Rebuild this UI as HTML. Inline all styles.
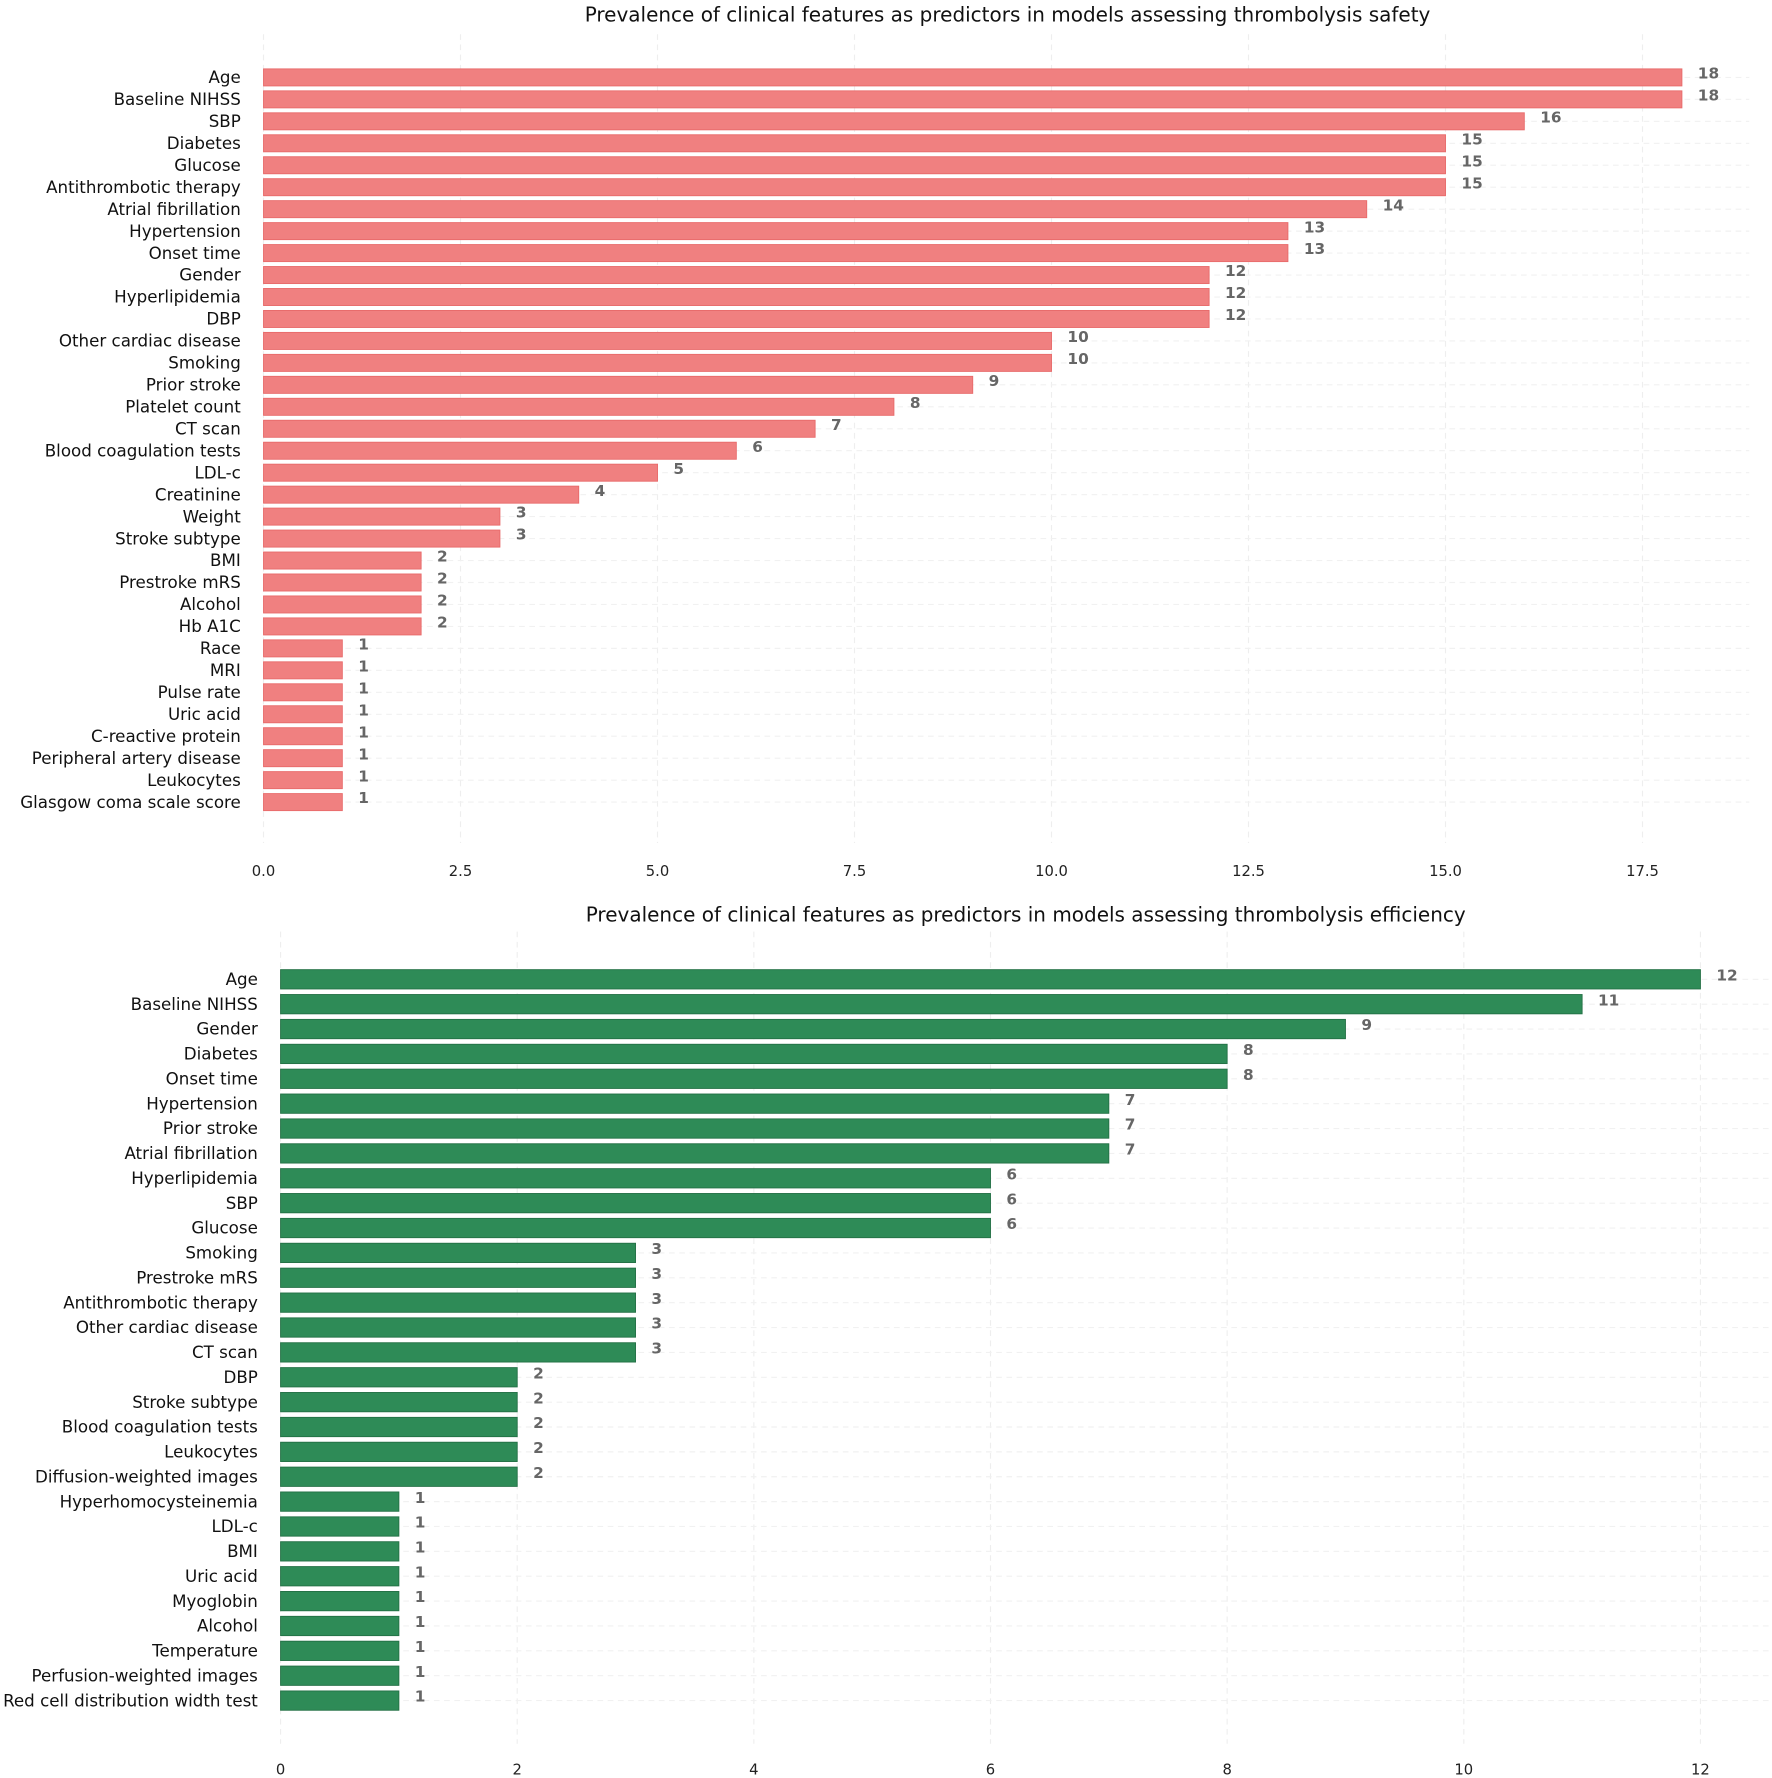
<!DOCTYPE html>
<html><head><meta charset="utf-8"><style>
html,body{margin:0;padding:0;background:#fff;}
svg{display:block;}
text{font-family:"DejaVu Sans","Liberation Sans",sans-serif;}
</style></head><body>
<svg id="svg" width="1772" height="1778" viewBox="0 0 1560 1565" xmlns="http://www.w3.org/2000/svg"></svg>
<script>
const safetyCategories=["Age","Baseline NIHSS","SBP","Diabetes","Glucose","Antithrombotic therapy","Atrial fibrillation","Hypertension","Onset time","Gender","Hyperlipidemia","DBP","Other cardiac disease","Smoking","Prior stroke","Platelet count","CT scan","Blood coagulation tests","LDL-c","Creatinine","Weight","Stroke subtype","BMI","Prestroke mRS","Alcohol","Hb A1C","Race","MRI","Pulse rate","Uric acid","C-reactive protein","Peripheral artery disease","Leukocytes","Glasgow coma scale score"];
const safetyValues=[18,18,16,15,15,15,14,13,13,12,12,12,10,10,9,8,7,6,5,4,3,3,2,2,2,2,1,1,1,1,1,1,1,1];
const safetyTicks=[0,2.5,5,7.5,10,12.5,15,17.5];
const safetyTickLabels=["0.0","2.5","5.0","7.5","10.0","12.5","15.0","17.5"];
const effCategories=["Age","Baseline NIHSS","Gender","Diabetes","Onset time","Hypertension","Prior stroke","Atrial fibrillation","Hyperlipidemia","SBP","Glucose","Smoking","Prestroke mRS","Antithrombotic therapy","Other cardiac disease","CT scan","DBP","Stroke subtype","Blood coagulation tests","Leukocytes","Diffusion-weighted images","Hyperhomocysteinemia","LDL-c","BMI","Uric acid","Myoglobin","Alcohol","Temperature","Perfusion-weighted images","Red cell distribution width test"];
const effValues=[12,11,9,8,8,7,7,7,6,6,6,3,3,3,3,3,2,2,2,2,2,1,1,1,1,1,1,1,1,1];
const effTicks=[0,2,4,6,8,10,12];
const effTickLabels=["0","2","4","6","8","10","12"];

const NS="http://www.w3.org/2000/svg";
const svg=document.getElementById('svg');
function mk(tag,attrs,parent,txt){const e=document.createElementNS(NS,tag);for(const k in attrs)e.setAttribute(k,attrs[k]);if(txt!==undefined)e.textContent=txt;parent.appendChild(e);return e;}

function chart(o){
  const g=mk('g',{},svg);
  
  
  const x=v=>o.x0+(v)*o.unit;
  const y=i=>o.yFirst+i*o.step;
  const t=mk('text',{x:o.titleX,y:o.titleY,'text-anchor':'middle','font-size':17.6,fill:'#111'},g,o.title);
  
  
  o.ticks.forEach((tv,i)=>{
    const gl=mk('line',{x1:x(tv),x2:x(tv),y1:o.gridTop,y2:o.gridBottom,stroke:'#eeeeee','stroke-width':1,'stroke-dasharray':'5,4'},g);
    
    
    const tl=mk('text',{x:x(tv),y:o.tickY,'text-anchor':'middle','font-size':13,fill:'#222'},g,o.tickLabels[i]);
    
    
  });
  o.cats.forEach((c,i)=>{
    const hl=mk('line',{x1:o.x0,x2:o.gridRight,y1:y(i),y2:y(i),stroke:'#f1f1f1','stroke-width':1,'stroke-dasharray':'5,4'},g);
    
    
  });
  o.cats.forEach((c,i)=>{
    const v=o.vals[i];
    const r=mk('rect',{x:x(0),y:y(i)-o.barH/2,width:x(v)-x(0),height:o.barH,fill:o.color,stroke:o.edge,'stroke-width':0.8},g);
    
    
    const lb=mk('text',{x:o.labelX,y:y(i)+5,'text-anchor':'end','font-size':14.7,fill:'#111'},g,c);
    
    
    const vl=mk('text',{x:x(v)+14,y:y(i)+1,'font-size':13.5,'font-weight':'bold',fill:'#666'},g,String(v));
    
    
  });
}
chart({name:'safety-chart',title:'Prevalence of clinical features as predictors in models assessing thrombolysis safety',titleX:887,titleY:19,
  x0:232,unit:(1446-232)/17.5,yFirst:68,step:(706-68)/33,barH:15,cats:safetyCategories,vals:safetyValues,
  ticks:safetyTicks,tickLabels:safetyTickLabels,tickY:771,gridTop:30,gridBottom:742,gridRight:1540,labelX:212,
  color:'#F08080',edge:'#e86a6a'});
chart({name:'efficiency-chart',title:'Prevalence of clinical features as predictors in models assessing thrombolysis efficiency',titleX:903,titleY:811,
  x0:247,unit:(1497-247)/12,yFirst:862,step:(1497-862)/29,barH:17,cats:effCategories,vals:effValues,
  ticks:effTicks,tickLabels:effTickLabels,tickY:1562,gridTop:820,gridBottom:1535,gridRight:1558,labelX:227,
  color:'#2E8B57',edge:'#237045'});
</script>
</body></html>
